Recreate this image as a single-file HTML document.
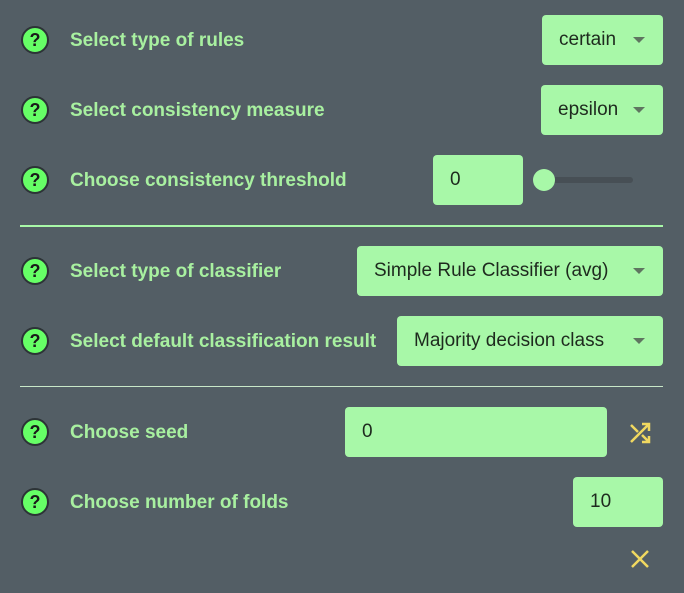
<!DOCTYPE html>
<html><head><meta charset="utf-8"><style>
body{margin:0;width:684px;height:593px;background:#535e65;font-family:"Liberation Sans",sans-serif;position:relative;overflow:hidden}
.i{position:absolute;left:21px;width:24px;height:24px;border-radius:50%;background:#66ff66;border:2px solid #2c3336;color:#1a1a1a;font-weight:bold;font-size:18px;line-height:24px;text-align:center}
.l{position:absolute;left:70px;color:#a8f0a0;font-weight:bold;font-size:19px;line-height:24px;white-space:nowrap}
.b{position:absolute;background:#a8f8a8;border-radius:4px;color:#1e2a1e;font-size:19px;line-height:50px;height:50px;box-sizing:border-box;padding-left:17px;white-space:nowrap}
.b.s:after{content:"";position:absolute;right:18px;top:22px;border-left:6px solid transparent;border-right:6px solid transparent;border-top:6px solid #5f7560}
.hr{position:absolute;left:20px;width:643px;height:2px;background:#a8f8a8}
</style></head><body>
<div class="i" style="top:26px">?</div><div class="l" style="top:29px">Select type of rules</div>
<div class="b s" style="left:542px;top:15px;width:121px">certain</div>
<div class="i" style="top:96px">?</div><div class="l" style="top:99px">Select consistency measure</div>
<div class="b s" style="left:541px;top:85px;width:122px">epsilon</div>
<div class="i" style="top:166px">?</div><div class="l" style="top:169px">Choose consistency threshold</div>
<div class="b" style="left:433px;top:155px;width:90px">0</div>
<div style="position:absolute;left:544px;top:177px;width:89px;height:6px;border-radius:3px;background:#474f55"></div>
<div style="position:absolute;left:533px;top:169px;width:22px;height:22px;border-radius:50%;background:#a8f8a8"></div>
<div class="hr" style="top:225px"></div>
<div class="i" style="top:257px">?</div><div class="l" style="top:260px">Select type of classifier</div>
<div class="b s" style="left:357px;top:246px;width:306px">Simple Rule Classifier (avg)</div>
<div class="i" style="top:327px">?</div><div class="l" style="top:330px">Select default classification result</div>
<div class="b s" style="left:397px;top:316px;width:266px">Majority decision class</div>
<div class="hr" style="top:386px;height:1px;background:#c8e8c8"></div>
<div class="i" style="top:418px">?</div><div class="l" style="top:421px">Choose seed</div>
<div class="b" style="left:345px;top:407px;width:262px">0</div>
<svg style="position:absolute;left:628px;top:421px" width="25" height="25" viewBox="0 0 25 25" fill="none" stroke="#f0d860" stroke-width="2.5">
<path d="M3 4l7 7M14 14l7 7M3 21L21 3M14 3h7v7M21 15v6h-7"/></svg>
<div class="i" style="top:488px">?</div><div class="l" style="top:491px">Choose number of folds</div>
<div class="b" style="left:573px;top:477px;width:90px">10</div>
<svg style="position:absolute;left:630px;top:549px" width="20" height="20" viewBox="0 0 20 20" stroke="#f0d860" stroke-width="2.5"><path d="M2 2L18 18M18 2L2 18"/></svg>
</body></html>
